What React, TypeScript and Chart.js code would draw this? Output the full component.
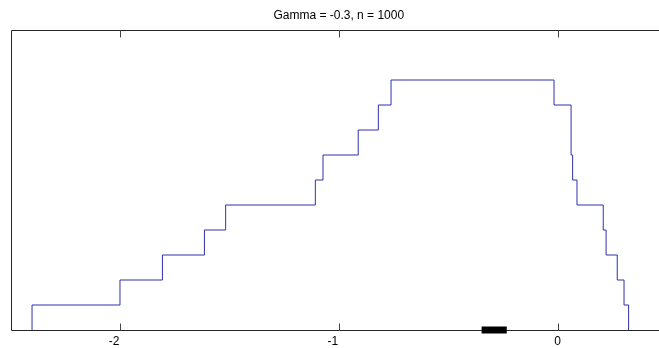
import React, { useEffect, useRef } from "react";
import { Chart, registerables } from "chart.js";

Chart.register(...registerables);

const TITLE = "Gamma = -0.3, n = 1000";
const X_MIN = -2.5;
const X_MAX = 0.5;
const Y_MIN = 0;
const Y_MAX = 12;
const xTickValues = [-2, -1, 0];

// step function: x where the level changes, and the level right after that x
const stepEdges = [
  -2.402, -2.0, -1.806, -1.614, -1.517, -1.107, -1.072, -0.911, -0.819, -0.761,
  -0.016, 0.062, 0.062, 0.069, 0.089, 0.209, 0.222, 0.273, 0.304, 0.325,
];
const stepLevels = [1, 2, 3, 4, 5, 6, 7, 8, 9, 10, 9, 8, 7, 6, 5, 4, 3, 2, 1, 0];
const baseLevel = 0;

// thick black bar on the x axis
const intervalX = [-0.347, -0.232];
const intervalY = [0, 0];

const FONT = "'Liberation Sans', Arial, Helvetica, sans-serif";

const boxPlugin = {
  id: "matlabBox",
  beforeDatasetsDraw(chart: any) {
    const { ctx, chartArea, scales } = chart;
    const L = Math.round(chartArea.left) + 0.5;
    const R = Math.round(chartArea.right) + 0.5;
    const T = Math.round(chartArea.top) + 0.5;
    const B = Math.round(chartArea.bottom) + 0.5;
    ctx.save();
    ctx.strokeStyle = "#262626";
    ctx.lineWidth = 1;
    ctx.beginPath();
    ctx.moveTo(R, T);
    ctx.lineTo(L, T);
    ctx.lineTo(L, B);
    ctx.lineTo(R, B);
    ctx.lineTo(R, T);
    ctx.stroke();
    ctx.strokeStyle = "#444";
    ctx.beginPath();
    for (const t of scales.x.ticks) {
      const px = Math.round(scales.x.getPixelForValue(t.value)) + 0.5;
      ctx.moveTo(px, B);
      ctx.lineTo(px, B - 7);
      ctx.moveTo(px, T);
      ctx.lineTo(px, T + 7);
    }
    ctx.stroke();
    ctx.restore();
  },
};

export default function App() {
  const ref = useRef<HTMLCanvasElement | null>(null);

  useEffect(() => {
    if (!ref.current) return;
    const stepData = [{ x: stepEdges[0], y: baseLevel }].concat(
      stepEdges.map((x, i) => ({ x, y: stepLevels[i] }))
    );
    const barData = intervalX.map((x, i) => ({ x, y: intervalY[i] }));

    const chart = new Chart(ref.current, {
      type: "line",
      data: {
        datasets: [
          {
            data: barData,
            borderColor: "#000000",
            borderWidth: 7,
            borderCapStyle: "butt",
            pointRadius: 0,
            fill: false,
            clip: false as any,
          },
          {
            data: stepData,
            borderColor: "#3030b0",
            borderWidth: 1,
            pointRadius: 0,
            fill: false,
            stepped: true,
          },
        ],
      },
      options: {
        animation: false,
        responsive: false,
        devicePixelRatio: 1,
        layout: { padding: { left: 10.6, right: 13.1, top: 0, bottom: 0 } },
        plugins: {
          legend: { display: false },
          tooltip: { enabled: false },
          title: {
            display: true,
            text: TITLE,
            color: "#000",
            font: { family: FONT, size: 12, weight: "normal" },
            padding: { top: 8.5, bottom: 7.1 },
          },
        },
        scales: {
          x: {
            type: "linear",
            min: X_MIN,
            max: X_MAX,
            grid: { display: false, drawTicks: false },
            border: { display: false },
            afterBuildTicks: (scale: any) => {
              scale.ticks = xTickValues.map((v) => ({ value: v }));
            },
            afterFit: (scale: any) => {
              scale.height = 18;
            },
            ticks: {
              padding: 4,
              color: "#000",
              font: { family: FONT, size: 12 },
              maxRotation: 0,
              callback: (v: any) => (Number(v) < 0 ? String(v) + "\u2002\u2002" : String(v)),
            },
          },
          y: {
            display: false,
            min: Y_MIN,
            max: Y_MAX,
          },
        },
      },
      plugins: [boxPlugin],
    });
    return () => chart.destroy();
  }, []);

  return (
    <div
      style={{
        position: "fixed",
        left: 0,
        top: 0,
        width: 659,
        height: 348,
        overflow: "hidden",
        background: "#fff",
      }}
    >
      <canvas ref={ref} width={680} height={348} style={{ display: "block" }} />
    </div>
  );
}
